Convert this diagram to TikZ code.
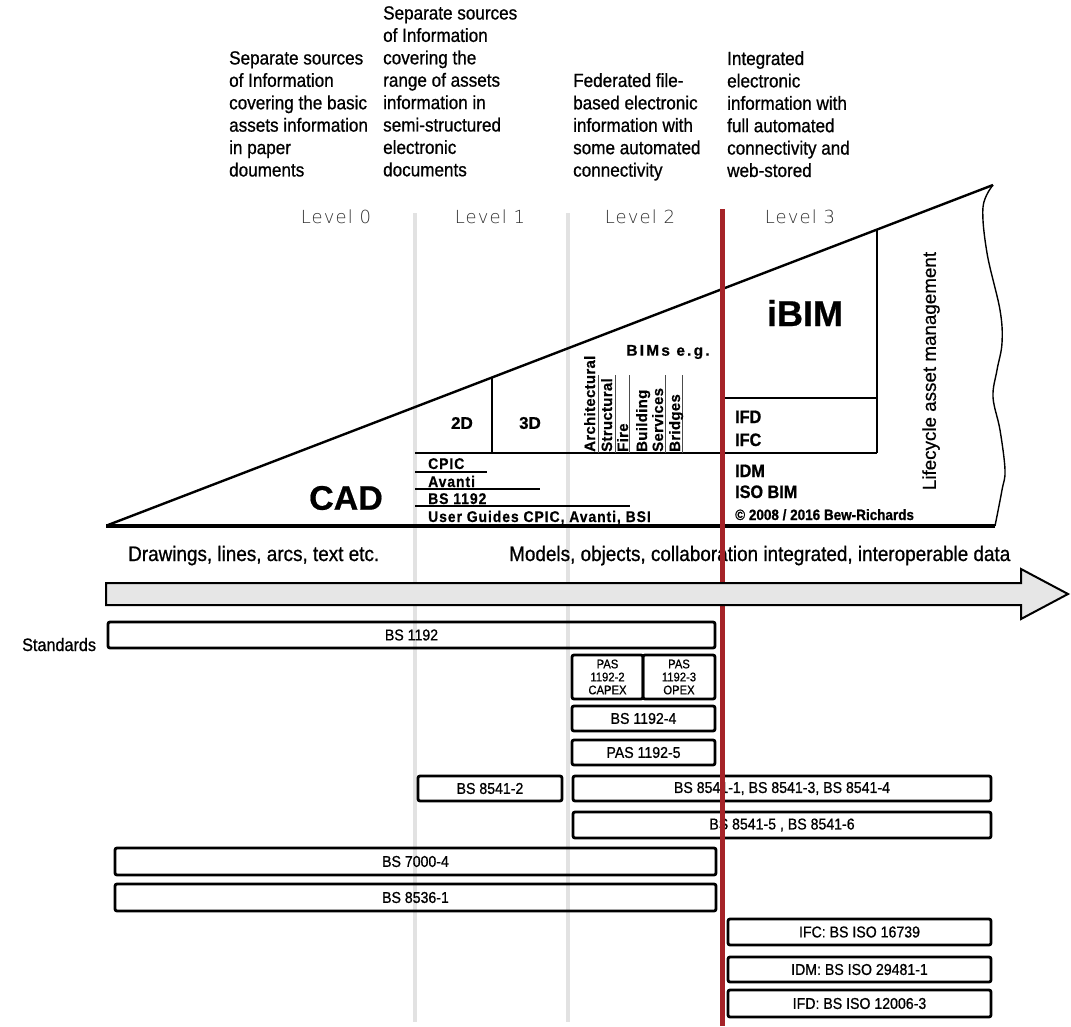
\documentclass[tikz,border=0pt]{standalone}
\usepackage{fontspec}
\setmainfont{Liberation Sans}[FakeStretch=0.9,FakeBold=0.8]
\newfontfamily\plainsans{Liberation Sans}[FakeBold=0.6]
\newfontfamily\trackedsans{Liberation Sans}[FakeStretch=0.9,LetterSpace=6,FakeBold=0.6]
\newfontfamily\bimsans{Liberation Sans}[LetterSpace=14,FakeBold=0.6]
\newfontfamily\rotsans{Liberation Sans}[LetterSpace=2,FakeBold=0.6]
\newfontfamily\levelfont{DejaVu Sans ExtraLight}[LetterSpace=6]
\newcommand\setfs[2]{\fontsize{#1}{#2}\selectfont}
\definecolor{levelred}{RGB}{165,35,40}
\definecolor{levelgray}{RGB}{226,226,226}
\definecolor{arrowgray}{RGB}{230,230,230}
\begin{document}
\begin{tikzpicture}[x=1pt,y=-1pt,
  toptext/.style={anchor=north west,inner sep=0pt,align=left,font=\setfs{19}{22.4}},
  lvl/.style={anchor=base,inner sep=0pt,font=\levelfont\setfs{18}{18},text=black!82},
  stdbox/.style={draw,line width=2.8pt,rounded corners=2pt,inner sep=0pt,font=\setfs{15.7}{16}},
  pasbox/.style={stdbox,align=center,font=\setfs{12.5}{13}},
  cadline/.style={line width=2.6pt},
  thinline/.style={line width=1.1pt},
  sepline/.style={line width=1pt,black!70},
  tlabel/.style={inner sep=0pt,anchor=base west,font=\trackedsans\bfseries\setfs{15.5}{16}},
  rlabel/.style={inner sep=0pt,anchor=base west,rotate=90,font=\rotsans\bfseries\setfs{15}{15}},
  klabel/.style={inner sep=0pt,anchor=base west,font=\bfseries\setfs{18}{18}},
  biglabel/.style={inner sep=0pt,font=\plainsans\bfseries\setfs{#1}{#1}},
  axislabel/.style={anchor=base west,inner sep=0pt,font=\setfs{21}{21}}
]
\useasboundingbox (0,0) rectangle (1071,1026);

% level separator lines
\draw[levelgray,line width=4pt] (415,213) -- (415,1022);
\draw[levelgray,line width=4pt] (568,213) -- (568,1022);

% column descriptions
\node[toptext] (d0) at (229,51) {Separate sources\\of Information\\covering the basic\\assets information\\in paper\\douments};
\node[toptext] (d1) at (383,6) {Separate sources\\of Information\\covering the\\range of assets\\information in\\semi-structured\\electronic\\documents};
\node[toptext] (d2) at (573,73) {Federated file-\\based electronic\\information with\\some automated\\connectivity};
\node[toptext] (d3) at (727,51) {Integrated\\electronic\\information with\\full automated\\connectivity and\\web-stored};

% level labels
\node[lvl] (lv0) at (336,223) {Level 0};
\node[lvl] (lv1) at (490,223) {Level 1};
\node[lvl] (lv2) at (640,223) {Level 2};
\node[lvl] (lv3) at (800,223) {Level 3};

% triangle
\coordinate (tl) at (108,525);
\coordinate (tr) at (993,185);
\draw[line width=2.4pt] (tl) -- (tr);
\draw[line width=3.2pt] (106,526) -- (995,526);
\draw[line width=1.4pt] plot[smooth,tension=0.6] coordinates {(993,185) (983,207) (987,253) (1000,310) (1002,343) (997,370) (993,397) (1000,430) (1005,470) (1002,490) (995,526)};

% inner divisions
\draw[cadline] (415,453) -- (877,453);
\draw[cadline] (492,377.5) -- (492,453);
\draw[cadline] (877,229.6) -- (877,453);
\draw[cadline] (722,398) -- (877,398);

\draw[thinline] (415,472) -- (487,472);
\draw[thinline] (415,489) -- (540,489);
\draw[thinline] (415,506) -- (630,506);

\foreach \xx in {598,615,629,665,682} \draw[sepline] (\xx,375) -- (\xx,453);

% triangle texts
\node[biglabel=34] (cad) at (346,498) {CAD};
\node[biglabel=17] (twod) at (462,423) {2D};
\node[biglabel=17] (threed) at (530,423) {3D};
\node[inner sep=0pt,font=\bimsans\bfseries\setfs{15.5}{16}] (bims) at (668,352) {BIMs e.g.};
\node[biglabel=36] (ibim) at (805,313) {iBIM};

\node[rlabel] (arch) at (595,452) {Architectural};
\node[rlabel] (struc) at (612,452) {Structural};
\node[rlabel] (fire) at (628,452) {Fire};
\node[rlabel] (build) at (647,452) {Building};
\node[rlabel] (serv) at (663,452) {Services};
\node[rlabel] (bridge) at (680,452) {Bridges};

\node[tlabel] (cpic) at (428,469) {CPIC};
\node[tlabel] (avanti) at (428,487) {Avanti};
\node[tlabel] (bsa) at (428,504) {BS 1192};
\node[tlabel] (guides) at (428,522) {User Guides CPIC, Avanti, BSI};

\node[klabel] (ifd) at (735,423) {IFD};
\node[klabel] (ifc) at (735,446) {IFC};
\node[klabel] (idm) at (735,477) {IDM};
\node[klabel] (isobim) at (735,498) {ISO BIM};
\node[klabel,font=\bfseries\setfs{15}{15}] (copy) at (735,520) {© 2008 / 2016 Bew-Richards};

\node[rotate=90,inner sep=0pt,font=\plainsans\setfs{18.8}{19}] (life) at (931,371) {Lifecycle asset management};

% axis texts
\node[axislabel] (drawings) at (128,561) {Drawings, lines, arcs, text etc.};
\node[axislabel] (models) at (509,561) {Models, objects, collaboration integrated, interoperable data};

% standards
\node[anchor=base west,inner sep=0pt,font=\setfs{18}{18}] (std) at (22,651) {Standards};
\node[stdbox,minimum width=607,minimum height=26] (bs1192) at (411.5,635) {BS 1192};
\node[pasbox,minimum width=71,minimum height=44] (pas2) at (607.5,677) {PAS\\1192-2\\CAPEX};
\node[pasbox,minimum width=72,minimum height=44] (pas3) at (679,677) {PAS\\1192-3\\OPEX};
\node[stdbox,minimum width=143,minimum height=25] (bs4) at (643.5,718.5) {BS 1192-4};
\node[stdbox,minimum width=143,minimum height=25] (pas5) at (643.5,752.5) {PAS 1192-5};
\node[stdbox,minimum width=144,minimum height=25] (b85412) at (490,788.5) {BS 8541-2};
\node[stdbox,minimum width=418,minimum height=25] (b8541a) at (782,788.5) {BS 8541-1, BS 8541-3, BS 8541-4};
\node[stdbox,minimum width=418,minimum height=26] (b8541b) at (782,825) {BS 8541-5 , BS 8541-6};
\node[stdbox,minimum width=601,minimum height=27] (b7000) at (415.5,861.5) {BS 7000-4};
\node[stdbox,minimum width=601,minimum height=27] (b8536) at (415.5,897.5) {BS 8536-1};
\node[stdbox,minimum width=263,minimum height=26] (iifc) at (859.5,932) {IFC: BS ISO 16739};
\node[stdbox,minimum width=263,minimum height=25] (iidm) at (859.5,969.5) {IDM: BS ISO 29481-1};
\node[stdbox,minimum width=263,minimum height=27] (iifd) at (859.5,1003.5) {IFD: BS ISO 12006-3};

% level 3 boundary
\draw[levelred,line width=5pt] (722,209) -- (722,1026);

% arrow
\draw[line width=2pt,fill=arrowgray,line join=miter] (106,583) -- (1021,583) -- (1021,569) -- (1068,594) -- (1021,619) -- (1021,605) -- (106,605) -- cycle;
\end{tikzpicture}
\end{document}
